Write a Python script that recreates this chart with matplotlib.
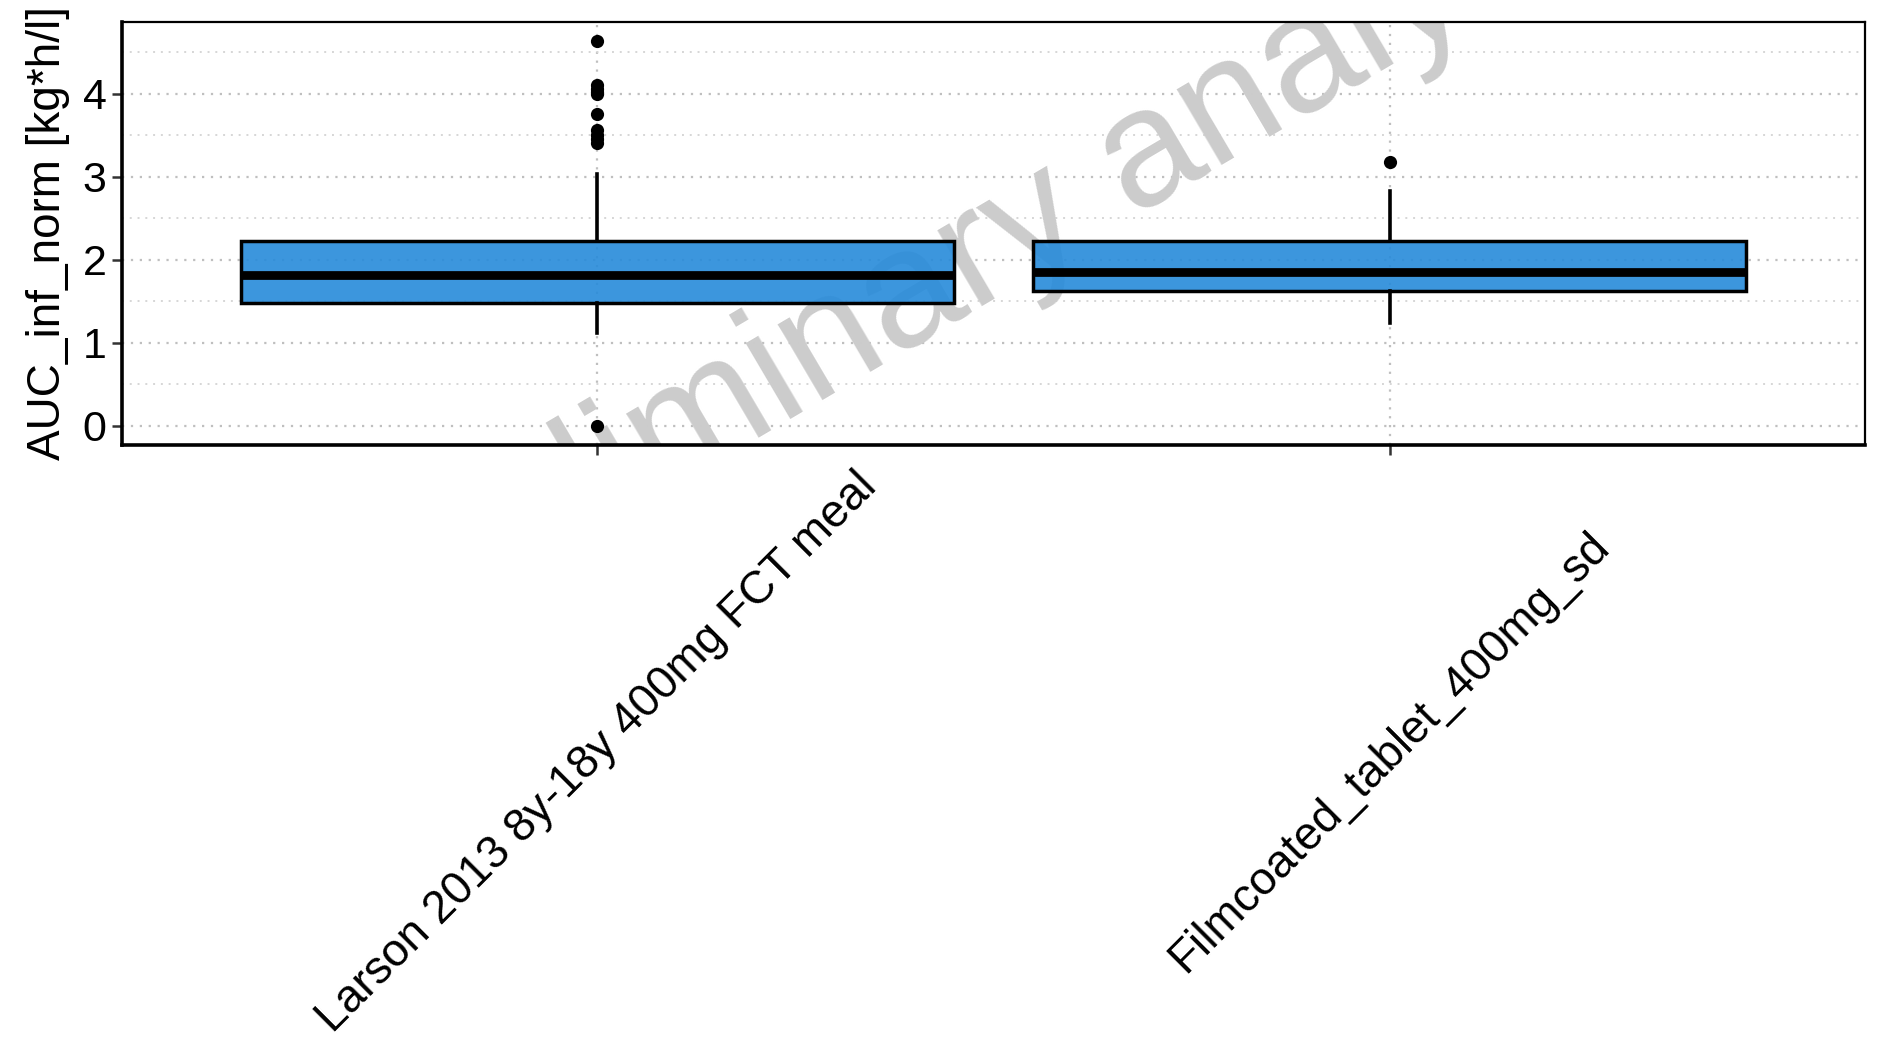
#!/usr/bin/env python3
"""
Boxplot of normalised AUC per study arm, with draft watermark
"""

import matplotlib
matplotlib.use('Agg')  # Non-interactive backend
import matplotlib.pyplot as plt
from matplotlib.ticker import MultipleLocator

plt.rcParams['font.family'] = ['Liberation Sans', 'DejaVu Sans']

# Data
categories = ["Larson 2013 8y-18y 400mg FCT meal", "Filmcoated_tablet_400mg_sd"]
q1 = [1.475, 1.62]
medians = [1.81, 1.85]
q3 = [2.22, 2.225]
whisker_low = [1.12, 1.24]
whisker_high = [3.03, 2.83]
outliers = [
    [4.63, 4.10, 4.06, 4.02, 3.99, 3.75, 3.56, 3.50, 3.45, 3.40, 0.0],
    [3.18],
]
ylabel = "AUC_inf_norm [kg*h/l]"
watermark = "preliminary analysis"

box_color = (0.153, 0.545, 0.855, 0.9)


def main():
    fig = plt.figure(figsize=(18.89, 10.62), dpi=100)
    ax = fig.add_axes([0.0646, 0.581, 0.9227, 0.3983])

    stats = []
    for i, name in enumerate(categories):
        stats.append({
            'label': name,
            'q1': q1[i],
            'med': medians[i],
            'q3': q3[i],
            'whislo': whisker_low[i],
            'whishi': whisker_high[i],
            'fliers': outliers[i],
        })

    positions = list(range(1, len(categories) + 1))
    ax.bxp(stats, positions=positions, widths=0.9, patch_artist=True,
           showcaps=False,
           boxprops=dict(facecolor=box_color, edgecolor='black', linewidth=2.5),
           medianprops=dict(color='black', linewidth=6.3, solid_capstyle='butt'),
           whiskerprops=dict(color='black', linewidth=2.6),
           flierprops=dict(marker='o', markerfacecolor='black',
                           markeredgecolor='none', markersize=9.5),
           zorder=2)

    # watermark sits behind the boxes
    ax.text(0.503, 0.47, watermark, transform=ax.transAxes, rotation=30.5,
            ha='center', va='center', rotation_mode='anchor',
            fontsize=120, color='#cccccc', zorder=1, clip_on=True)

    ax.set_xlim(0.4, 2.6)
    ax.set_ylim(-0.2315, 4.8615)
    ax.yaxis.set_major_locator(MultipleLocator(1))
    ax.yaxis.set_minor_locator(MultipleLocator(0.5))

    ax.set_axisbelow(True)
    ax.grid(True, which='major', axis='both', color='#bfbfbf',
            linestyle=(0, (1, 3)), linewidth=1.6)
    ax.grid(True, which='minor', axis='y', color='#d6d6d6',
            linestyle=(0, (1, 3)), linewidth=1.4)

    ax.set_xticks(positions)
    ax.set_xticklabels(categories, rotation=45, ha='center', va='center',
                       rotation_mode='default', fontsize=33)
    ax.tick_params(axis='x', length=7.2, width=1.8, color='#333333', pad=214)
    ax.tick_params(axis='y', which='major', length=7.2, width=1.8,
                   color='#333333', labelsize=31, pad=4)
    ax.tick_params(axis='y', which='minor', length=0)

    ax.set_ylabel(ylabel, fontsize=33)
    ax.yaxis.set_label_coords(-0.030, 0.5)

    for side in ['left', 'bottom']:
        ax.spines[side].set_linewidth(2.6)
        ax.spines[side].set_color('black')
    for side in ['top', 'right']:
        ax.spines[side].set_linewidth(1.6)
        ax.spines[side].set_color('black')

    fig.savefig('out.png', dpi=100)
    plt.close(fig)


if __name__ == "__main__":
    main()
